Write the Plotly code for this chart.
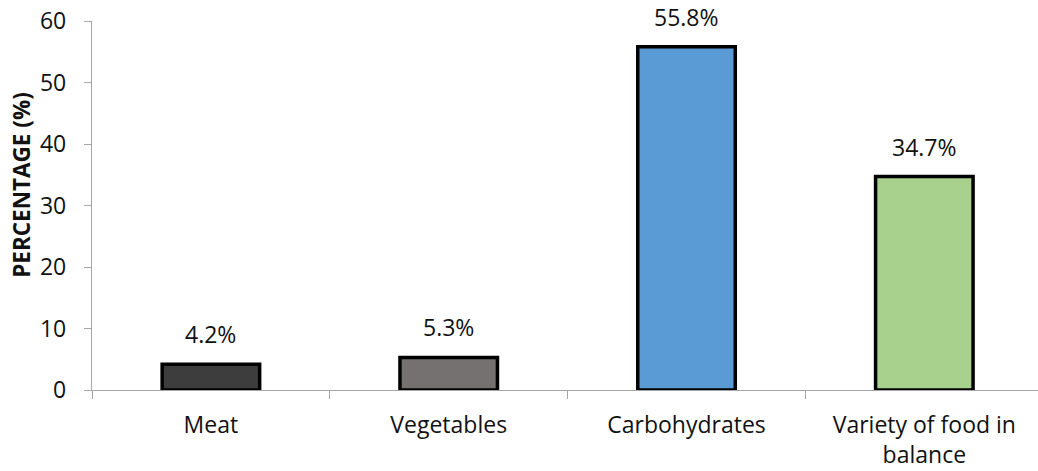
import plotly.graph_objects as go

# Survey shares by preferred food group
categories = ["Meat", "Vegetables", "Carbohydrates", "Variety of food in<br>balance"]
percentages = [4.2, 5.3, 55.8, 34.7]
bar_colors = ["#3d3d3d", "#767171", "#5b9bd5", "#a9d18e"]
y_ticks = [0, 10, 20, 30, 40, 50, 60]

FONT = "Open Sans"
TEXT = "#111111"

fig = go.Figure(
    go.Bar(
        x=categories,
        y=percentages,
        width=0.41,
        marker=dict(color=bar_colors, line=dict(color="black", width=3.5)),
        showlegend=False,
        hoverinfo="skip",
    )
)

# Value labels above each bar
for cat, val in zip(categories, percentages):
    fig.add_annotation(
        x=cat, y=val, text=f"{val:.1f}%", showarrow=False,
        yanchor="bottom", yshift=12,
        font=dict(family=FONT, size=23, color=TEXT),
    )

# Vertical axis title, placed as a rotated annotation
fig.add_annotation(
    text="<b>PERCENTAGE (%)</b>", textangle=-90, showarrow=False,
    xref="paper", yref="paper", x=-0.074, y=0.556,
    xanchor="center", yanchor="middle",
    font=dict(family=FONT, size=22.5, color=TEXT),
)

fig.update_layout(
    width=1038, height=471,
    margin=dict(l=92, r=0, t=21, b=81),
    paper_bgcolor="white", plot_bgcolor="white",
    font=dict(family=FONT, size=23, color=TEXT),
    bargap=0.59,
)

fig.update_xaxes(
    range=[-0.5, 3.478],
    showline=True, linecolor="#a6a6a6", linewidth=1.3,
    ticks="outside", tickson="boundaries", ticklen=8, tickcolor="#a6a6a6",
    tickfont=dict(family=FONT, size=23, color=TEXT),
    ticklabelstandoff=14,
    showgrid=False, zeroline=False,
)

fig.update_yaxes(
    range=[0, 60], tickvals=y_ticks,
    showline=True, linecolor="#a6a6a6", linewidth=1.3,
    ticks="outside", ticklen=7, tickcolor="#a6a6a6",
    tickfont=dict(family=FONT, size=23, color=TEXT),
    ticklabelstandoff=13,
    showgrid=False, zeroline=False,
)

fig.write_html("out.html")
